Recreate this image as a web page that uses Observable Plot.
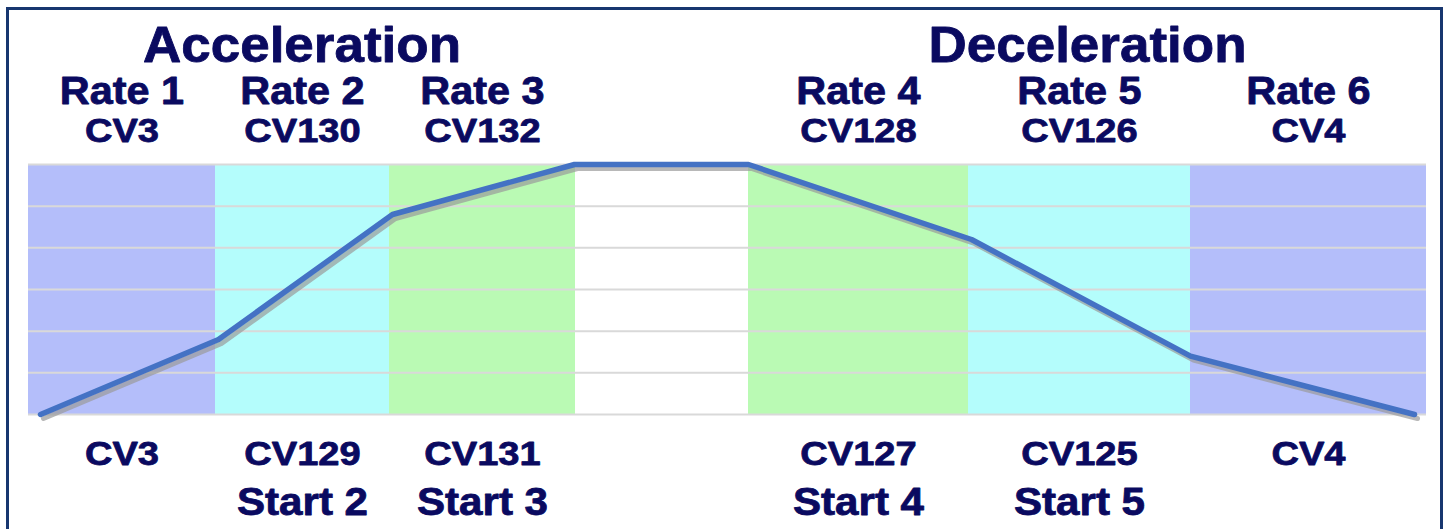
<!DOCTYPE html>
<html>
<head>
<meta charset="utf-8">
<script src="https://cdn.jsdelivr.net/npm/d3@7"></script>
<script src="https://cdn.jsdelivr.net/npm/@observablehq/plot@0.6"></script>
<style>
  html, body { margin: 0; padding: 0; background: #ffffff; }
  #wrap { position: relative; width: 1446px; height: 529px; overflow: hidden; }
  #frame { position: absolute; left: 6px; top: 7px; width: 1437px; height: 600px;
           box-sizing: border-box; border: 3px solid #17366f; border-bottom: none; pointer-events: none; }
  #chart { position: absolute; left: 0; top: 0; }
</style>
</head>
<body>
<div id="wrap"><div id="chart"></div><div id="frame"></div></div>
<script>
// ---- data ----
const phases      = ["Acceleration", "Deceleration"];
const phaseStart  = [0, 720];
const phaseEnd    = [547, 1398];

const rateLabels  = ["Rate 1", "Rate 2", "Rate 3", "Rate 4", "Rate 5", "Rate 6"];
const rateCVs     = ["CV3", "CV130", "CV132", "CV128", "CV126", "CV4"];
const startCVs    = ["CV3", "CV129", "CV131", "CV127", "CV125", "CV4"];
const startLabels = ["", "Start 2", "Start 3", "Start 4", "Start 5", ""];
const bandStart   = [0, 187, 361, 720, 940, 1162];
const bandEnd     = [187, 361, 547, 940, 1162, 1398];

const profileT    = [12, 190, 364, 546, 720, 943, 1162, 1386];
const profileV    = [0, 1.8, 4.8, 6, 6, 4.2, 1.4, 0];

const gridTicks   = [0, 1, 2, 3, 4, 5, 6];

// ---- tables built from the arrays ----
const bands = rateLabels.map((r, i) => ({
  rate: r, cvTop: rateCVs[i], cvBottom: startCVs[i], start: startLabels[i],
  x1: bandStart[i], x2: bandEnd[i], mid: (bandStart[i] + bandEnd[i]) / 2
}));
const phaseRows = phases.map((p, i) => ({ name: p, mid: (phaseStart[i] + phaseEnd[i]) / 2 }));
const profile = profileT.map((t, i) => ({ t, v: profileV[i] }));

const navy = "#0a0a60";
const font = "'Liberation Sans', Arial, sans-serif";
const txt = { fontWeight: "bold", fill: navy, stroke: navy, strokeWidth: 0.8, lineAnchor: "bottom" };

const chart = Plot.plot({
  width: 1446,
  height: 529,
  marginLeft: 28,
  marginRight: 20,
  marginTop: 164,
  marginBottom: 115,
  style: { fontFamily: font, background: "transparent" },
  x: { domain: [0, 1398], axis: null },
  y: { domain: [0, 6], axis: null },
  color: { domain: rateLabels, range: ["#b4befa", "#b4fdfc", "#bafab4", "#bafab4", "#b4fdfc", "#b4befa"] },
  marks: [
    Plot.rectX(bands, { x1: "x1", x2: "x2", y1: 0, y2: 6, fill: "rate" }),
    Plot.ruleY(gridTicks, { stroke: "#d9d9d9", strokeWidth: 2 }),
    Plot.line(profile, { x: "t", y: "v", stroke: "#9a9a9a", strokeOpacity: 0.7, strokeWidth: 5, dx: 3, dy: 4 }),
    Plot.line(profile, { x: "t", y: "v", stroke: "#4472c4", strokeWidth: 5.5 }),
    Plot.text(phaseRows, { ...txt, x: "mid", text: "name", frameAnchor: "top", dy: -103, fontSize: 50 }),
    Plot.text(bands, { ...txt, x: "mid", text: "rate", frameAnchor: "top", dy: -61, fontSize: 38 }),
    Plot.text(bands, { ...txt, x: "mid", text: "cvTop", frameAnchor: "top", dy: -23, fontSize: 34 }),
    Plot.text(bands, { ...txt, x: "mid", text: "cvBottom", frameAnchor: "bottom", dy: 50, fontSize: 34 }),
    Plot.text(bands.filter(d => d.start), { ...txt, x: "mid", text: "start", frameAnchor: "bottom", dy: 100, fontSize: 39 })
  ]
});

// widen the lettering slightly, as in the source slide
const stretch = { 50: 1.06, 38: 1.09, 39: 1.08, 34: 1.12 };
chart.querySelectorAll("text").forEach(t => {
  const g = t.closest("[font-size]");
  const fs = g ? parseFloat(g.getAttribute("font-size")) : 0;
  const s = stretch[fs] || 1.1;
  const x = +(t.getAttribute("x") || 0), y = +(t.getAttribute("y") || 0);
  const tr = t.getAttribute("transform") || "";
  t.removeAttribute("x"); t.removeAttribute("y");
  t.setAttribute("transform", `${tr} translate(${x},${y}) scale(${s},1)`);
});

document.getElementById("chart").appendChild(chart);
</script>
</body>
</html>
